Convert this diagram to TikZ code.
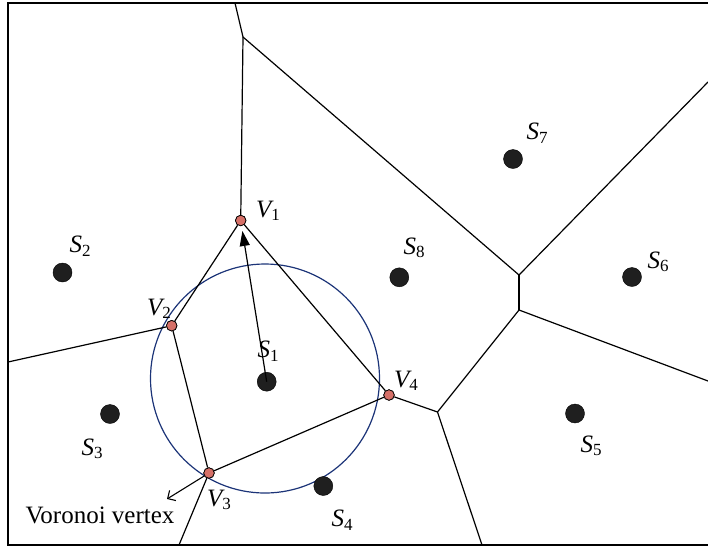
\documentclass[tikz,border=0pt]{standalone}
\usepackage{fontspec}
\setmainfont{Liberation Serif}
\usetikzlibrary{arrows.meta}
\newcommand{\slab}[2]{{\fontsize{25}{25}\selectfont\itshape #1}\raisebox{-0.35em}{\fontsize{17}{17}\selectfont #2}}
\begin{document}
\begin{tikzpicture}[x=1pt,y=-1pt,
  edge/.style={line width=1.2pt,black},
  site/.style={circle,fill=black!88,draw=black,inner sep=0pt,minimum size=19pt},
  vert/.style={circle,fill={rgb,255:red,214;green,112;blue,104},draw=black,line width=0.7pt,inner sep=0pt,minimum size=10.5pt},
  lab/.style={inner sep=0pt}]
\useasboundingbox (0,0) rectangle (708,550);
\begin{scope}
\clip (0,0) rectangle (708,550);
\draw[line width=1.2pt] (8,3) rectangle (720,545);
\end{scope}
% junction coordinates
\coordinate (T) at (235,3);
\coordinate (A) at (243,37);
\coordinate (B) at (519,275);
\coordinate (C) at (519,310);
\coordinate (D) at (437.5,412);
\coordinate (E1) at (708,82);
\coordinate (E2) at (708,381);
\coordinate (E3) at (482,545);
\coordinate (E4) at (179,545);
\coordinate (E5) at (8,362);
\coordinate (VV) at (167,499);
% circle
\draw[line width=1.2pt,color={rgb,255:red,28;green,52;blue,120}] (265,378.5) circle (114.5);
% vertices
\node[vert] (V1) at (240.7,220.5) {};
\node[vert] (V2) at (171.7,325.7) {};
\node[vert] (V3) at (209,473) {};
\node[vert] (V4) at (389,395) {};
% sites
\node[site] (S1) at (266.7,381.7) {};
\node[site] (S2) at (62.5,272.5) {};
\node[site] (S3) at (110,414) {};
\node[site] (S4) at (323.3,486) {};
\node[site] (S5) at (575,413.5) {};
\node[site] (S6) at (632,277) {};
\node[site] (S7) at (513,159) {};
\node[site] (S8) at (399.3,277.3) {};
% edges
\draw[edge] (T) -- (A);
\draw[edge] (A) -- (V1);
\draw[edge] (A) -- (B);
\draw[edge] (B) -- (E1);
\draw[edge] (B) -- (C);
\draw[edge] (C) -- (E2);
\draw[edge] (C) -- (D);
\draw[edge] (D) -- (V4);
\draw[edge] (D) -- (E3);
\draw[edge] (V1) -- (V2);
\draw[edge] (V1) -- (V4);
\draw[edge] (V2) -- (E5);
\draw[edge] (V2) -- (V3);
\draw[edge] (V3) -- (V4);
\draw[edge] (V3) -- (E4);
% redraw vertices on top
\node[vert] at (V1) {};
\node[vert] at (V2) {};
\node[vert] at (V3) {};
\node[vert] at (V4) {};
% arrows
\draw[edge,-{Triangle[length=15pt,width=10pt]},shorten >=5pt] (S1.center) -- (V1);
\draw[line width=1.1pt,-{Straight Barb[length=6pt,width=12pt]}] (V3) -- (VV);
% labels
\node[lab] (l1) at (268,351) {\slab{S}{1}};
\node[lab] (l2) at (80,246) {\slab{S}{2}};
\node[lab] (l3) at (92,449) {\slab{S}{3}};
\node[lab] (l4) at (342,520) {\slab{S}{4}};
\node[lab] (l5) at (591,446) {\slab{S}{5}};
\node[lab] (l6) at (658,262) {\slab{S}{6}};
\node[lab] (l7) at (537,133) {\slab{S}{7}};
\node[lab] (l8) at (414,248) {\slab{S}{8}};
\node[lab] (m1) at (268,211) {\slab{V}{1}};
\node[lab] (m2) at (159,309) {\slab{V}{2}};
\node[lab] (m3) at (219,500) {\slab{V}{3}};
\node[lab] (m4) at (406,381) {\slab{V}{4}};
\node[lab] (vt) at (100,515) {\fontsize{25}{25}\selectfont Voronoi vertex};
\end{tikzpicture}
\end{document}
